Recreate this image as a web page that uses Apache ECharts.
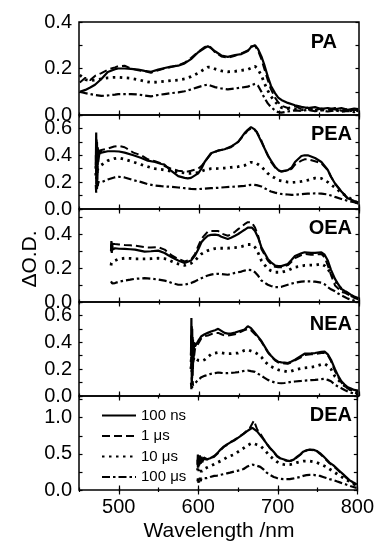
<!DOCTYPE html>
<html>
<head>
<meta charset="utf-8">
<script src="https://cdn.jsdelivr.net/npm/echarts@6/dist/echarts.min.js"></script>
<style>
html,body{margin:0;padding:0;background:#fff;}
#chart{width:377px;height:542px;}
</style>
</head>
<body>
<div id="chart"></div>
<script>
// ---------------- DATA ----------------
const panelNames = ['PA', 'PEA', 'OEA', 'NEA', 'DEA'];
const seriesNames = ['100 ns', '1 \u03bcs', '10 \u03bcs', '100 \u03bcs'];
const xTickLabels = [500, 600, 700, 800];

// PA
const paWavelength = [451,458,464,470,478,486,495,499,507,515,524,532,540,549,557,565,574,582,590,599,607,611,615,620,628,636,645,653,661,665,670,674,678,682,686,690,695,699,703,711,720,728,736,745,753,761,770,778,786,794,799];
const pa100ns = [0.100,0.108,0.118,0.130,0.155,0.185,0.197,0.200,0.200,0.198,0.195,0.190,0.186,0.195,0.202,0.208,0.212,0.222,0.240,0.270,0.288,0.296,0.288,0.274,0.256,0.250,0.258,0.262,0.275,0.292,0.300,0.282,0.252,0.212,0.165,0.125,0.094,0.075,0.065,0.052,0.042,0.035,0.030,0.034,0.026,0.030,0.024,0.030,0.022,0.028,0.025];
const pa1us = [0.140,0.160,0.150,0.168,0.180,0.195,0.205,0.210,0.212,0.200,0.192,0.188,0.182,0.192,0.200,0.206,0.214,0.225,0.245,0.272,0.292,0.298,0.290,0.270,0.252,0.246,0.255,0.265,0.278,0.295,0.298,0.275,0.240,0.195,0.150,0.110,0.075,0.055,0.040,0.030,0.038,0.025,0.032,0.020,0.028,0.022,0.030,0.018,0.026,0.020,0.024];
const pa10us = [0.172,0.152,0.148,0.150,0.155,0.160,0.162,0.162,0.160,0.158,0.152,0.145,0.140,0.142,0.145,0.148,0.150,0.155,0.165,0.180,0.198,0.206,0.205,0.198,0.190,0.186,0.188,0.192,0.196,0.202,0.210,0.195,0.170,0.135,0.105,0.080,0.058,0.042,0.032,0.028,0.025,0.022,0.026,0.020,0.024,0.018,0.022,0.020,0.016,0.022,0.018];
const pa100us = [0.100,0.094,0.090,0.086,0.082,0.084,0.088,0.090,0.090,0.090,0.088,0.084,0.080,0.086,0.090,0.094,0.097,0.102,0.110,0.120,0.128,0.130,0.126,0.120,0.114,0.110,0.114,0.118,0.122,0.128,0.134,0.125,0.100,0.072,0.050,0.034,0.020,0.012,0.010,0.015,0.020,0.018,0.022,0.016,0.020,0.015,0.020,0.014,0.018,0.012,0.016];

// PEA
const peaWavelength = [471,471.5,472,472.5,473,473.5,474,476,478,486,494,500,507,518,528,536,545,553,557,565,574,582,586,590,599,603,607,615,624,632,640,649,657,661,665,669,672,678,682,686,690,695,699,703,711,716,720,728,732,736,745,753,761,765,770,778,786,794,799];
const pea100ns = [0.30,0.57,0.15,0.50,0.22,0.46,0.35,0.44,0.42,0.43,0.43,0.428,0.42,0.40,0.38,0.36,0.35,0.335,0.33,0.285,0.245,0.232,0.228,0.232,0.265,0.30,0.35,0.415,0.435,0.445,0.465,0.50,0.565,0.59,0.61,0.595,0.575,0.50,0.45,0.40,0.36,0.315,0.29,0.28,0.29,0.31,0.35,0.395,0.40,0.40,0.38,0.35,0.29,0.24,0.19,0.13,0.08,0.06,0.05];
const pea1us = [0.40,0.25,0.52,0.28,0.45,0.33,0.42,0.40,0.44,0.45,0.465,0.47,0.46,0.42,0.40,0.37,0.355,0.34,0.32,0.30,0.285,0.28,0.28,0.285,0.30,0.32,0.35,0.41,0.435,0.445,0.46,0.50,0.555,0.585,0.60,0.59,0.575,0.51,0.45,0.40,0.35,0.31,0.285,0.28,0.285,0.30,0.33,0.36,0.37,0.37,0.355,0.34,0.29,0.24,0.19,0.13,0.075,0.055,0.04];
const pea10us = [0.25,0.35,0.22,0.32,0.26,0.30,0.31,0.32,0.33,0.36,0.375,0.38,0.37,0.35,0.33,0.315,0.30,0.295,0.29,0.282,0.275,0.268,0.265,0.265,0.27,0.28,0.29,0.30,0.302,0.305,0.31,0.315,0.325,0.335,0.348,0.345,0.34,0.315,0.29,0.265,0.245,0.23,0.215,0.21,0.20,0.198,0.20,0.205,0.21,0.215,0.23,0.228,0.20,0.18,0.16,0.12,0.09,0.06,0.04];
const pea100us = [0.18,0.12,0.30,0.15,0.22,0.17,0.20,0.19,0.20,0.22,0.235,0.24,0.235,0.215,0.20,0.185,0.175,0.17,0.168,0.165,0.16,0.155,0.152,0.15,0.148,0.15,0.152,0.155,0.158,0.162,0.165,0.168,0.172,0.176,0.18,0.18,0.178,0.168,0.155,0.142,0.13,0.122,0.116,0.112,0.108,0.105,0.106,0.11,0.112,0.114,0.116,0.115,0.108,0.10,0.09,0.075,0.06,0.05,0.04];

// OEA
const oeaWavelength = [490,490.5,491,491.5,492,495,500,507,514,520,532,540,549,557,561,566,574,582,590,595,599,603,607,611,615,620,624,628,636,640,645,649,653,657,661,663,666,670,674,678,682,686,690,695,699,703,711,715,720,728,732,740,745,753,757,761,765,770,774,778,782,786,790,794,799];
const oea100ns = [0.30,0.36,0.29,0.35,0.31,0.318,0.315,0.314,0.312,0.31,0.298,0.30,0.304,0.29,0.278,0.265,0.245,0.231,0.245,0.275,0.31,0.353,0.375,0.392,0.397,0.398,0.396,0.386,0.373,0.38,0.392,0.402,0.415,0.427,0.44,0.447,0.44,0.42,0.38,0.324,0.29,0.255,0.235,0.216,0.212,0.212,0.225,0.245,0.272,0.288,0.294,0.29,0.29,0.294,0.28,0.245,0.19,0.137,0.105,0.078,0.065,0.055,0.042,0.032,0.024];
const oea1us = [0.34,0.30,0.35,0.32,0.345,0.343,0.34,0.337,0.335,0.333,0.324,0.322,0.324,0.31,0.294,0.275,0.255,0.24,0.25,0.284,0.33,0.373,0.395,0.416,0.42,0.42,0.42,0.405,0.392,0.40,0.415,0.431,0.445,0.46,0.472,0.48,0.47,0.44,0.39,0.314,0.28,0.245,0.225,0.208,0.205,0.205,0.218,0.235,0.26,0.278,0.284,0.28,0.28,0.284,0.265,0.216,0.16,0.098,0.08,0.06,0.055,0.045,0.035,0.025,0.016];
const oea10us = [0.216,0.23,0.22,0.235,0.23,0.245,0.255,0.259,0.258,0.255,0.255,0.256,0.259,0.256,0.251,0.24,0.225,0.216,0.228,0.245,0.265,0.284,0.295,0.304,0.31,0.316,0.318,0.318,0.318,0.32,0.322,0.324,0.328,0.333,0.34,0.349,0.34,0.324,0.29,0.245,0.22,0.196,0.185,0.176,0.176,0.176,0.186,0.195,0.206,0.212,0.216,0.218,0.218,0.225,0.215,0.196,0.165,0.127,0.10,0.078,0.065,0.049,0.038,0.028,0.02];
const oea100us = [0.122,0.115,0.125,0.11,0.118,0.112,0.12,0.127,0.132,0.137,0.141,0.138,0.133,0.126,0.122,0.112,0.102,0.102,0.112,0.122,0.132,0.141,0.15,0.157,0.162,0.166,0.167,0.165,0.161,0.166,0.172,0.176,0.18,0.186,0.19,0.192,0.188,0.176,0.155,0.127,0.115,0.102,0.095,0.088,0.088,0.09,0.102,0.108,0.114,0.12,0.122,0.122,0.12,0.114,0.105,0.088,0.075,0.063,0.05,0.039,0.03,0.02,0.014,0.008,0.004];

// NEA
const neaWavelength = [590,590.5,591,591.5,592,592.5,593,594,595,599,603,607,611,615,620,624,628,632,636,640,645,649,653,657,661,665,670,674,678,682,686,690,695,699,703,707,711,715,720,728,732,740,745,753,757,761,765,770,774,778,782,786,790,794,799];
const nea100ns = [0.30,0.58,0.08,0.50,0.15,0.42,0.25,0.40,0.37,0.41,0.445,0.46,0.47,0.48,0.49,0.50,0.485,0.47,0.465,0.465,0.472,0.48,0.488,0.495,0.52,0.505,0.47,0.44,0.41,0.37,0.33,0.30,0.27,0.255,0.25,0.248,0.245,0.255,0.27,0.30,0.315,0.318,0.32,0.328,0.33,0.31,0.27,0.20,0.15,0.11,0.085,0.065,0.055,0.045,0.04];
const nea1us = [0.45,0.20,0.52,0.12,0.44,0.20,0.38,0.30,0.35,0.39,0.43,0.445,0.45,0.46,0.47,0.47,0.46,0.45,0.45,0.455,0.46,0.47,0.48,0.49,0.50,0.49,0.46,0.435,0.405,0.365,0.325,0.295,0.265,0.25,0.245,0.242,0.24,0.25,0.265,0.29,0.305,0.31,0.312,0.32,0.32,0.305,0.26,0.185,0.14,0.10,0.075,0.055,0.045,0.035,0.03];
const nea10us = [0.20,0.35,0.18,0.30,0.24,0.32,0.27,0.29,0.28,0.265,0.26,0.27,0.29,0.31,0.32,0.325,0.322,0.318,0.315,0.315,0.318,0.32,0.33,0.34,0.345,0.335,0.325,0.31,0.29,0.26,0.235,0.22,0.205,0.195,0.19,0.185,0.18,0.185,0.195,0.205,0.21,0.215,0.22,0.235,0.24,0.225,0.20,0.145,0.12,0.095,0.075,0.058,0.045,0.03,0.02];
const nea100us = [0.10,0.05,0.14,0.06,0.11,0.08,0.09,0.09,0.095,0.12,0.14,0.15,0.158,0.165,0.17,0.175,0.172,0.17,0.17,0.172,0.175,0.178,0.182,0.188,0.19,0.185,0.18,0.165,0.15,0.135,0.12,0.11,0.10,0.097,0.095,0.097,0.10,0.105,0.108,0.112,0.115,0.118,0.12,0.125,0.128,0.12,0.11,0.083,0.07,0.058,0.045,0.033,0.025,0.018,0.013];

// DEA
const deaWavelength = [599,599.5,600,600.5,601,602,603,604,605,607,611,615,620,624,628,632,636,640,645,649,653,657,661,665,668,670,674,678,682,686,690,695,699,703,707,711,715,720,724,728,732,736,740,745,749,753,757,761,765,770,774,778,782,786,790,794,799];
const dea100ns = [0.35,0.49,0.31,0.47,0.34,0.48,0.36,0.46,0.38,0.45,0.425,0.44,0.47,0.51,0.56,0.60,0.63,0.655,0.685,0.715,0.745,0.775,0.81,0.84,0.86,0.85,0.81,0.755,0.70,0.64,0.585,0.525,0.47,0.44,0.425,0.41,0.40,0.42,0.457,0.49,0.53,0.55,0.56,0.555,0.54,0.51,0.47,0.425,0.38,0.34,0.30,0.26,0.22,0.18,0.137,0.11,0.08];
const dea1us = [0.42,0.30,0.46,0.33,0.44,0.35,0.45,0.37,0.43,0.41,0.42,0.435,0.46,0.50,0.55,0.595,0.62,0.66,0.69,0.72,0.75,0.78,0.82,0.86,0.92,0.96,0.84,0.78,0.71,0.64,0.58,0.52,0.465,0.435,0.42,0.405,0.40,0.415,0.45,0.485,0.52,0.545,0.555,0.55,0.535,0.50,0.46,0.415,0.37,0.33,0.29,0.25,0.21,0.17,0.13,0.10,0.07];
const dea10us = [0.27,0.30,0.25,0.28,0.23,0.26,0.24,0.27,0.26,0.29,0.31,0.33,0.355,0.38,0.40,0.425,0.45,0.47,0.49,0.52,0.55,0.58,0.61,0.635,0.65,0.645,0.625,0.61,0.57,0.52,0.47,0.425,0.39,0.365,0.355,0.35,0.352,0.365,0.38,0.39,0.40,0.40,0.40,0.39,0.38,0.36,0.34,0.32,0.29,0.255,0.225,0.195,0.17,0.14,0.12,0.09,0.06];
const dea100us = [0.12,0.16,0.10,0.14,0.105,0.17,0.12,0.16,0.15,0.165,0.165,0.18,0.195,0.20,0.21,0.22,0.23,0.24,0.255,0.265,0.275,0.29,0.32,0.34,0.35,0.35,0.335,0.32,0.285,0.24,0.21,0.18,0.165,0.155,0.15,0.15,0.15,0.16,0.17,0.18,0.195,0.205,0.21,0.21,0.20,0.195,0.18,0.165,0.15,0.137,0.12,0.105,0.09,0.075,0.06,0.045,0.03];

// y axis settings per panel (range and labelled ticks)
const yMax = [0.4, 0.7, 0.55, 0.7, 1.3];
const yTickStep = [0.1, 0.1, 0.1, 0.1, 0.25];
const yTickLabels = [[0, 0.2, 0.4], [0, 0.2, 0.4, 0.6], [0, 0.2, 0.4], [0, 0.2, 0.4, 0.6], [0, 0.5, 1.0]];

const panelData = [
  [paWavelength, [pa100ns, pa1us, pa10us, pa100us]],
  [peaWavelength, [pea100ns, pea1us, pea10us, pea100us]],
  [oeaWavelength, [oea100ns, oea1us, oea10us, oea100us]],
  [neaWavelength, [nea100ns, nea1us, nea10us, nea100us]],
  [deaWavelength, [dea100ns, dea1us, dea10us, dea100us]]
];

// ---------------- LAYOUT / STYLE ----------------
const FONT = 'Liberation Sans, Arial, Helvetica, sans-serif';
const gridTops = [22, 115, 209, 302, 396];
const gridHeights = [93, 94, 93, 94, 94];
const lineTypes = ['solid', [8, 4], [2.5, 4.5], [8, 3, 2.5, 3]];
const lineWidths = [2.2, 2, 2.8, 2.2];
const tickColor = '#000';

const grids = gridTops.map((t, i) => ({
  left: 79, width: 280, top: t, height: gridHeights[i],
  show: true, borderColor: '#000', borderWidth: 1.5, backgroundColor: 'transparent'
}));

const xAxes = [];
const yAxes = [];
const series = [];

function xAx(g, pos, inside, len, custom, showLabel) {
  const ax = {
    type: 'value', gridIndex: g, min: 450, max: 800, interval: 50, position: pos,
    axisLine: { show: false, onZero: false },
    axisTick: { show: true, inside: inside, length: len, lineStyle: { color: tickColor, width: 1.2 } },
    axisLabel: { show: false },
    splitLine: { show: false }
  };
  if (custom) ax.axisTick.customValues = xTickLabels;
  if (showLabel) {
    ax.axisLabel = { show: true, customValues: xTickLabels, margin: 7, fontSize: 20, color: '#000', fontFamily: FONT };
  }
  xAxes.push(ax);
  return xAxes.length - 1;
}

for (let g = 0; g < 5; g++) {
  const mainX = xAx(g, 'bottom', true, 2.5, false, false);
  xAx(g, 'bottom', true, 4.5, true, g === 4);
  if (g > 0) {
    xAx(g, 'top', true, 2.5, false, false);
    xAx(g, 'top', true, 4.5, true, false);
  }
  if (g === 4) {
    xAx(g, 'bottom', false, 2, false, false);
    xAx(g, 'bottom', false, 4.5, true, false);
  }
  const leftY = yAxes.length;
  yAxes.push({
    type: 'value', gridIndex: g, min: 0, max: yMax[g], interval: yTickStep[g], position: 'left',
    axisLine: { show: false, onZero: false },
    axisTick: { show: true, inside: true, length: 3.5, lineStyle: { color: tickColor, width: 1.2 } },
    axisLabel: { show: true, customValues: yTickLabels[g], margin: 7, fontSize: 20, color: '#000', fontFamily: FONT,
      formatter: v => Number(v).toFixed(1) },
    splitLine: { show: false }
  });
  yAxes.push({
    type: 'value', gridIndex: g, min: 0, max: yMax[g], interval: yTickStep[g], position: 'right',
    axisLine: { show: false, onZero: false },
    axisTick: { show: true, inside: true, length: 3.5, lineStyle: { color: tickColor, width: 1.2 } },
    axisLabel: { show: false },
    splitLine: { show: false }
  });
  const [wl, vals] = panelData[g];
  vals.forEach((v, k) => {
    series.push({
      type: 'line', name: seriesNames[k], xAxisIndex: mainX, yAxisIndex: leftY,
      data: wl.map((w, i) => [w, v[i]]),
      symbol: 'none', showSymbol: false, silent: true, animation: false,
      lineStyle: { color: '#000', width: lineWidths[k], type: lineTypes[k] },
      itemStyle: { color: '#000' },
      z: 10 - k
    });
  });
}

const labelPos = [[337, 42], [352, 134], [352, 228], [352, 324], [352, 415]];
const graphics = panelNames.map((n, i) => ({
  type: 'text', x: labelPos[i][0], y: labelPos[i][1], silent: true,
  style: { text: n, fill: '#000', font: 'bold 20px ' + FONT, align: 'right', verticalAlign: 'middle' }
}));
graphics.push({
  type: 'text', x: 30, y: 259, rotation: Math.PI / 2, silent: true,
  style: { text: '\u0394O.D.', fill: '#000', font: '21px ' + FONT, align: 'center', verticalAlign: 'middle' }
});
graphics.push({
  type: 'text', x: 219, y: 531, silent: true,
  style: { text: 'Wavelength /nm', fill: '#000', font: '21px ' + FONT, align: 'center', verticalAlign: 'middle' }
});

const option = {
  backgroundColor: '#fff',
  animation: false,
  grid: grids,
  xAxis: xAxes,
  yAxis: yAxes,
  series: series,
  legend: {
    data: seriesNames, orient: 'vertical', left: 96, top: 403,
    itemWidth: 34, itemHeight: 14, itemGap: 5.5, selectedMode: false,
    itemStyle: { opacity: 0 },
    textStyle: { fontSize: 15, color: '#000', fontFamily: FONT, lineHeight: 14 }
  },
  graphic: graphics
};

const chart = echarts.init(document.getElementById('chart'), null, { renderer: 'canvas' });
chart.setOption(option);
</script>
</body>
</html>
